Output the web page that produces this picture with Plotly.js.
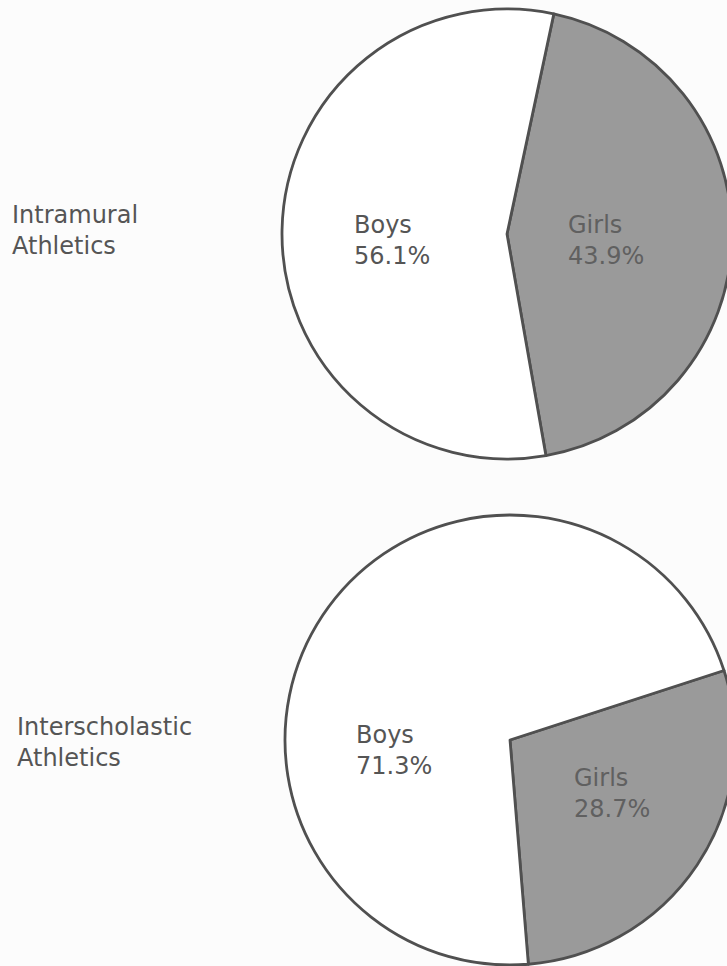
<!DOCTYPE html>
<html>
<head>
<meta charset="utf-8">
<script src="https://cdn.plot.ly/plotly-3.0.1.min.js"></script>
<style>
  html, body { margin: 0; padding: 0; overflow: hidden; background: #fcfcfc; }
  #chart { width: 760px; height: 966px; }
</style>
</head>
<body>
<div id="chart"></div>
<script>
// data
var groups = ['Intramural<br>Athletics', 'Interscholastic<br>Athletics'];
var sexes = ['Girls', 'Boys'];
var intramural = [43.9, 56.1];
var interscholastic = [28.7, 71.3];

var W = 760, H = 966;
var font = 'DejaVu Sans, Arial, sans-serif';

// pixel boxes -> paper fractions
function px(x0, x1) { return [x0 / W, x1 / W]; }
function py(y0, y1) { return [1 - y1 / H, 1 - y0 / H]; }

function pieTrace(values, xdom, ydom, rot) {
  return {
    type: 'pie',
    labels: sexes,
    values: values,
    sort: false,
    direction: 'clockwise',
    rotation: rot,
    domain: { x: xdom, y: ydom },
    marker: {
      colors: ['#9a9a9a', '#ffffff'],
      line: { color: '#505050', width: 2.8 }
    },
    textinfo: 'none',
    hoverinfo: 'none',
    showlegend: false
  };
}

function label(text, x, y, color) {
  return {
    text: text, xref: 'paper', yref: 'paper',
    x: x / W, y: 1 - y / H, xanchor: 'left', yanchor: 'middle',
    align: 'left', showarrow: false,
    font: { family: font, size: 24, color: color }
  };
}

function sliceText(i, values) {
  return sexes[i] + '<br>' + values[i].toFixed(1) + '%';
}

var data = [
  pieTrace(intramural, px(282, 732), py(9, 459), 12),
  pieTrace(interscholastic, px(285, 735), py(515, 965), 72)
];

var layout = {
  width: W,
  height: H,
  margin: { l: 0, r: 0, t: 0, b: 0 },
  paper_bgcolor: '#fcfcfc',
  showlegend: false,
  annotations: [
    label(groups[0], 10, 231, '#555555'),
    label(groups[1], 15, 742, '#555555'),
    label(sliceText(1, intramural), 352, 240, '#555555'),
    label(sliceText(0, intramural), 566, 240, '#606060'),
    label(sliceText(1, interscholastic), 354, 750, '#555555'),
    label(sliceText(0, interscholastic), 572, 793, '#606060')
  ]
};

Plotly.newPlot('chart', data, layout, { staticPlot: true, displayModeBar: false });
</script>
</body>
</html>
